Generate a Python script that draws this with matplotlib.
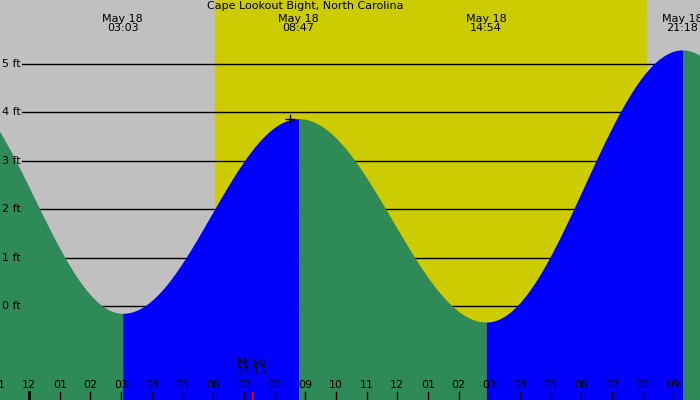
import numpy as np
import matplotlib.pyplot as plt

# tide extremes (hours from midnight May 18, height in ft)
ext_hours = [-2.7, 3.05, 8.783, 14.9, 21.3, 27.5]
ext_heights = [4.6, -0.15, 3.87, -0.33, 5.29, -0.3]
label_times = ['03:03', '08:47', '14:54', '21:18']
sunrise, sunset = 6.07, 20.15
moonrise = 7.25
hour_labels = ['11', '12', '01', '02', '03', '04', '05', '06', '07', '08', '09', '10',
               '11', '12', '01', '02', '03', '04', '05', '06', '07', '08', '09']

x0, x1 = -0.95, 21.87
y0, y1 = -1.94, 6.32

fig = plt.figure(figsize=(7, 4), dpi=100)
ax = fig.add_axes([0, 0, 1, 1])
ax.set_xlim(x0, x1)
ax.set_ylim(y0, y1)
ax.axis('off')

ax.axvspan(x0, sunrise, color='#c0c0c0', zorder=0)
ax.axvspan(sunrise, sunset, color='#cccc00', zorder=0)
ax.axvspan(sunset, x1, color='#c0c0c0', zorder=0)

for ft in range(6):
    ax.plot([-0.22, x1], [ft, ft], color='black', lw=1, zorder=1)
    ax.text(-0.88, ft, f'{ft} ft', fontsize=8, va='center', ha='left', zorder=3)

# tide curve between extremes (cosine shape)
for i in range(len(ext_hours) - 1):
    ta, tb = ext_hours[i], ext_hours[i + 1]
    ha, hb = ext_heights[i], ext_heights[i + 1]
    t = np.linspace(ta, tb, 200)
    h = hb + (ha - hb) * (1 + np.cos(np.pi * (t - ta) / (tb - ta))) / 2
    col = 'blue' if hb > ha else '#2e8b57'
    ax.fill_between(t, y0, h, color=col, lw=0, zorder=2)

ax.text(9.0, 6.2, 'Cape Lookout Bight, North Carolina', fontsize=8, ha='center', va='center', zorder=3)
for t, lab in zip(ext_hours[1:5], label_times):
    ax.text(t, 5.83, 'May 18\n' + lab, fontsize=8, ha='center', va='center', linespacing=0.9, zorder=3)
ax.plot(8.5, 3.87, marker='+', color='black', ms=7, zorder=3)

for i, lab in enumerate(hour_labels):
    h = i - 1
    ax.text(h, -1.64, lab, fontsize=8, ha='center', va='center', zorder=3)
    lw = 2 if h == 0 else 1
    ax.plot([h, h], [y0, -1.77], color='black', lw=lw, zorder=3)
ax.plot([moonrise, moonrise], [y0, -1.77], color='red', lw=1, zorder=3)
ax.text(moonrise, -1.25, 'Mrise\n07:15', fontsize=8, ha='center', va='center', linespacing=0.9, zorder=3)

fig.savefig('out.png', dpi=100)
